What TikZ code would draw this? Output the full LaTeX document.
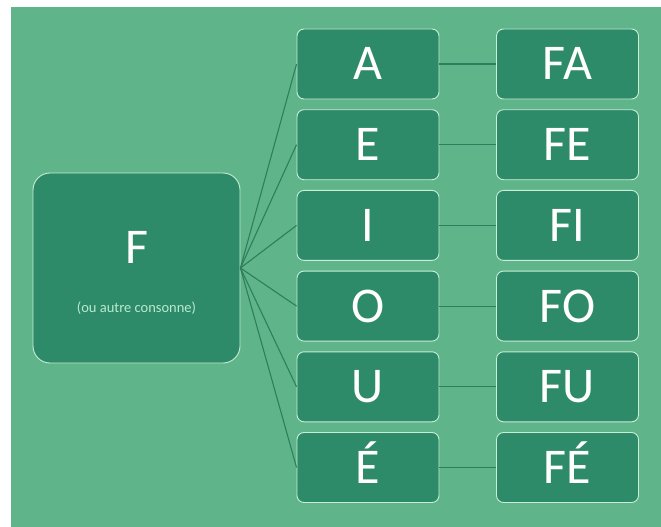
\documentclass[tikz,border=0pt]{standalone}
\usepackage{fontspec}
\setmainfont{Carlito}
\usepackage{tikz}
\usepackage{xcolor}
\usetikzlibrary{positioning}

\definecolor{bggreen}{HTML}{5FB589}
\definecolor{boxgreen}{HTML}{2E8B6A}
\definecolor{edgegreen}{HTML}{C9EDD6}
\definecolor{notegreen}{HTML}{B8EAD0}
\definecolor{linkgreen}{HTML}{2F7D5C}

\tikzset{
  letterbox/.style={draw=edgegreen, fill=boxgreen, rounded corners=7pt, line width=0.9pt,
    minimum width=142pt, minimum height=70pt, inner sep=0pt, text=white,
    font=\fontsize{50}{56}\selectfont, text height=32pt, text depth=0pt},
  link/.style={draw=linkgreen, line width=1.1pt}
}

\begin{document}
\begin{tikzpicture}[x=1pt, y=-1pt]
  \useasboundingbox (0,0) rectangle (661,527);
  \fill[bggreen] (11,7) rectangle (661,527);
  % consonne
  \node [letterbox, minimum width=207pt, minimum height=190pt, rounded corners=17pt] (cons) at (136.5,268) {};
  \node [text=white, font=\fontsize{50}{56}\selectfont, text height=32pt, text depth=0pt, inner sep=0pt] (consF) at (136.5,247) {F};
  \node [text=notegreen, font=\fontsize{14.5}{17}\selectfont] (consnote) at (136.5,308) {(ou autre consonne)};
  % voyelles et syllabes
  \foreach \v/\i in {A/1,E/2,I/3,O/4,U/5,É/6} {
    \node [letterbox] (v\i) at (368, {64+80.7*(\i-1)}) {\v};
    \node [letterbox] (s\i) at (567.5, {64+80.7*(\i-1)}) {F\v};
    \draw [link] (cons.east) -- (v\i.west);
    \draw [link] (v\i.east) -- (s\i.west);
  }
\end{tikzpicture}
\end{document}
